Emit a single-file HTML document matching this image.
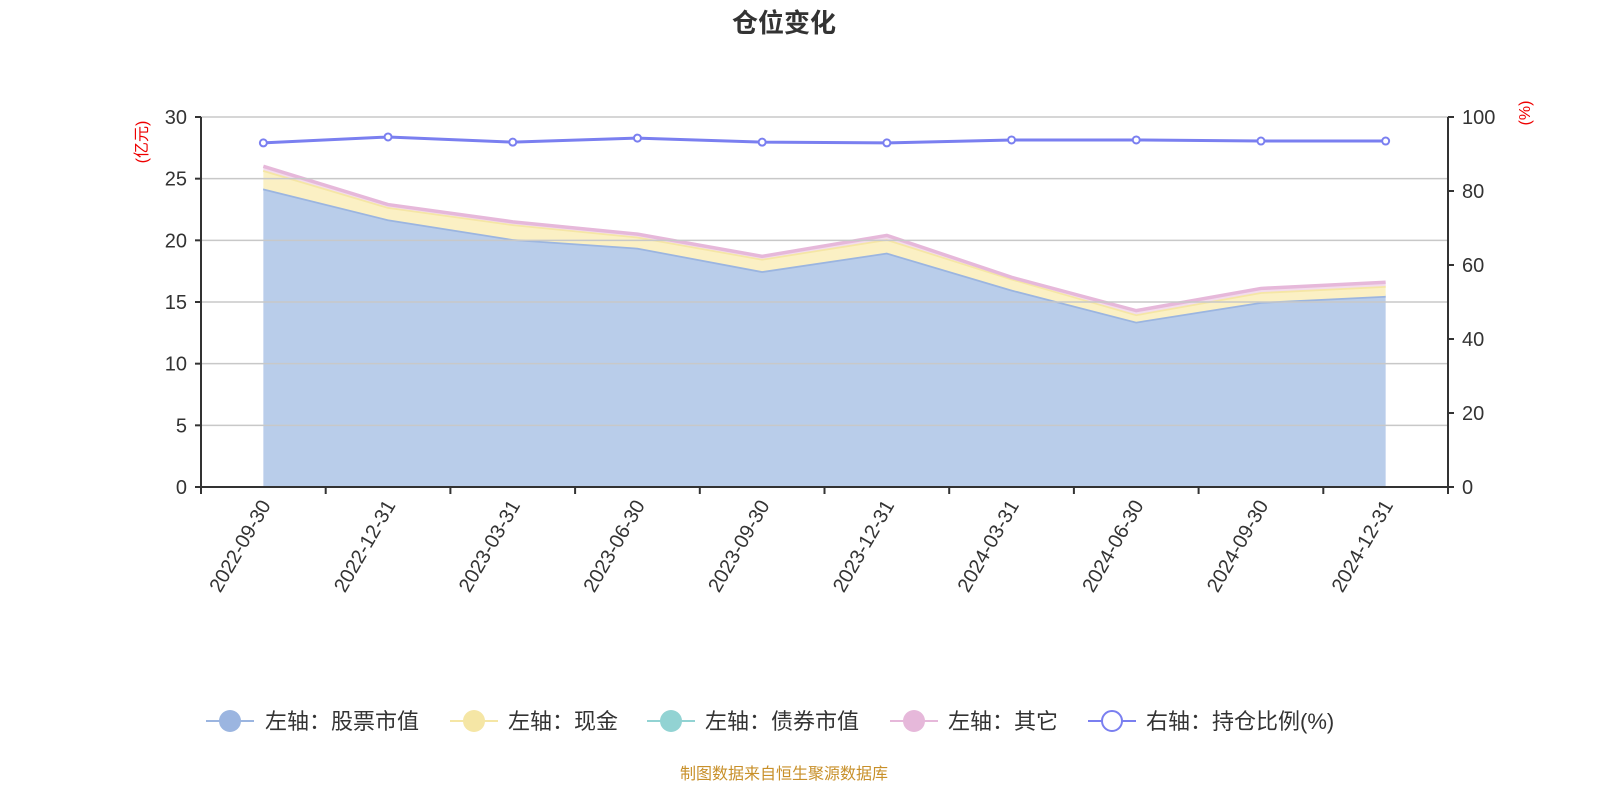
<!DOCTYPE html>
<html><head><meta charset="utf-8"><style>
body{margin:0;background:#fff;}
svg{display:block;font-family:"Liberation Sans","Noto Sans CJK SC",sans-serif;}
</style></head><body>
<svg id="chart" width="1600" height="800">
<text x="784" y="32" text-anchor="middle" font-size="26" font-weight="bold" fill="#333">仓位变化</text>
<g id="areas"></g><g id="grid"></g><g id="axes"></g><g id="ratio"></g>
<text transform="translate(147,142) rotate(-90)" text-anchor="middle" font-size="16" fill="#e00">(亿元)</text>
<text transform="translate(1530,113) rotate(-90)" text-anchor="middle" font-size="16" fill="#e00">(%)</text>
<g font-size="22" fill="#333">
<g><line x1="206" y1="721" x2="254" y2="721" stroke="#9bb5e0" stroke-width="2"/><circle cx="230" cy="721" r="11" fill="#9bb5e0"/><text x="265" y="729">左轴：股票市值</text></g>
<g><line x1="450" y1="721" x2="498" y2="721" stroke="#f5e6a5" stroke-width="2"/><circle cx="474" cy="721" r="11" fill="#f5e6a5"/><text x="508" y="729">左轴：现金</text></g>
<g><line x1="647" y1="721" x2="695" y2="721" stroke="#92d3d3" stroke-width="2"/><circle cx="671" cy="721" r="11" fill="#92d3d3"/><text x="705" y="729">左轴：债券市值</text></g>
<g><line x1="890" y1="721" x2="938" y2="721" stroke="#e6b8da" stroke-width="2"/><circle cx="914" cy="721" r="11" fill="#e6b8da"/><text x="948" y="729">左轴：其它</text></g>
<g><line x1="1088" y1="721" x2="1136" y2="721" stroke="#7a7ff0" stroke-width="2"/><circle cx="1112" cy="721" r="10" fill="#fff" stroke="#7a7ff0" stroke-width="2"/><text x="1146" y="729">右轴：持仓比例(%)</text></g>
</g>
<text x="784" y="779" text-anchor="middle" font-size="16" fill="#c8902a">制图数据来自恒生聚源数据库</text>
</svg>
<script>
const categories=["2022-09-30","2022-12-31","2023-03-31","2023-06-30","2023-09-30","2023-12-31","2024-03-31","2024-06-30","2024-09-30","2024-12-31"];
const stockValues=[24.2,21.7,20.1,19.4,17.5,19.0,16.0,13.4,15.0,15.5];
const cashValues=[1.5,1.0,1.2,0.9,1.0,1.1,0.9,0.6,0.8,0.8];
const bondValues=[0,0,0,0,0,0,0,0,0,0];
const otherValues=[0.3,0.2,0.2,0.2,0.2,0.3,0.1,0.3,0.3,0.3];
const ratioValues=[93.0,94.6,93.2,94.3,93.2,93.0,93.8,93.8,93.5,93.5];
const leftTicks=[0,5,10,15,20,25,30];
const rightTicks=[0,20,40,60,80,100];
const NS="http://www.w3.org/2000/svg";
const L=201,R=1448,T=117,B=487;
const bw=(R-L)/categories.length;
const xs=i=>L+bw*(i+0.5);
const yL=v=>B-(v/30)*(B-T);
const yR=v=>B-(v/100)*(B-T);
function mk(tag,attrs,parent){const e=document.createElementNS(NS,tag);for(const k in attrs)e.setAttribute(k,attrs[k]);parent.appendChild(e);return e;}
const gA=document.getElementById('areas'),gG=document.getElementById('grid'),gX=document.getElementById('axes'),gR=document.getElementById('ratio');
const series=[[stockValues,"#b9cdea","#9bb5e0","stock"],[cashValues,"#fbf0c4","#f5e6a5","cash"],[bondValues,"#c5e8e8","#92d3d3","bond"],[otherValues,"#f3dcec","#e6b8da","other"]];
let base=categories.map(()=>0);
series.forEach(s=>{
  const top=base.map((b,i)=>b+s[0][i]);
  if(s[0].some(v=>v>0)){
    let d="M"+categories.map((c,i)=>xs(i)+","+yL(top[i])).join("L");
    for(let i=categories.length-1;i>=0;i--)d+="L"+xs(i)+","+yL(base[i]);
    d+="Z";
    const a=mk('path',{d:d,fill:s[1]},gA);
    
    
    const ln=mk('polyline',{points:categories.map((c,i)=>xs(i)+","+yL(top[i])).join(" "),fill:"none",stroke:s[2],"stroke-width":3.5},gA);
    
    
  }
  base=top;
});
leftTicks.forEach(v=>{
  const y=yL(v);
  if(v>0){const g=mk('line',{x1:L,x2:R,y1:y,y2:y,stroke:"#c8c8c8","stroke-width":1.5},gG);
    
    }
  mk('line',{x1:L-6,x2:L,y1:y,y2:y,stroke:"#333","stroke-width":2},gX);
  const t=mk('text',{x:L-14,y:y+7,"text-anchor":"end","font-size":20,fill:"#333"},gX);t.textContent=v;
  
  
});
rightTicks.forEach(v=>{
  const y=yR(v);
  mk('line',{x1:R,x2:R+6,y1:y,y2:y,stroke:"#333","stroke-width":2},gX);
  const t=mk('text',{x:R+14,y:y+7,"font-size":20,fill:"#333"},gX);t.textContent=v;
  
  
});
mk('line',{x1:L,x2:L,y1:T,y2:B,stroke:"#333","stroke-width":2},gX);
mk('line',{x1:R,x2:R,y1:T,y2:B,stroke:"#333","stroke-width":2},gX);
mk('line',{x1:L,x2:R,y1:B,y2:B,stroke:"#333","stroke-width":2},gX);
for(let i=0;i<=categories.length;i++){const x=L+bw*i;mk('line',{x1:x,x2:x,y1:B,y2:B+7,stroke:"#333","stroke-width":2},gX);}
categories.forEach((c,i)=>{
  const x=xs(i)+8,y=B+18;
  const t=mk('text',{x:x,y:y,"text-anchor":"end","font-size":20,fill:"#333",transform:`rotate(-60 ${x} ${y})`},gX);t.textContent=c;
  
  
});
const rl=mk('polyline',{points:ratioValues.map((v,i)=>xs(i)+","+yR(v)).join(" "),fill:"none",stroke:"#7a7ff0","stroke-width":3},gR);


ratioValues.forEach((v,i)=>{
  const c=mk('circle',{cx:xs(i),cy:yR(v),r:3.5,fill:"#fff",stroke:"#7a7ff0","stroke-width":2},gR);
  
  
});
</script>
</body></html>
